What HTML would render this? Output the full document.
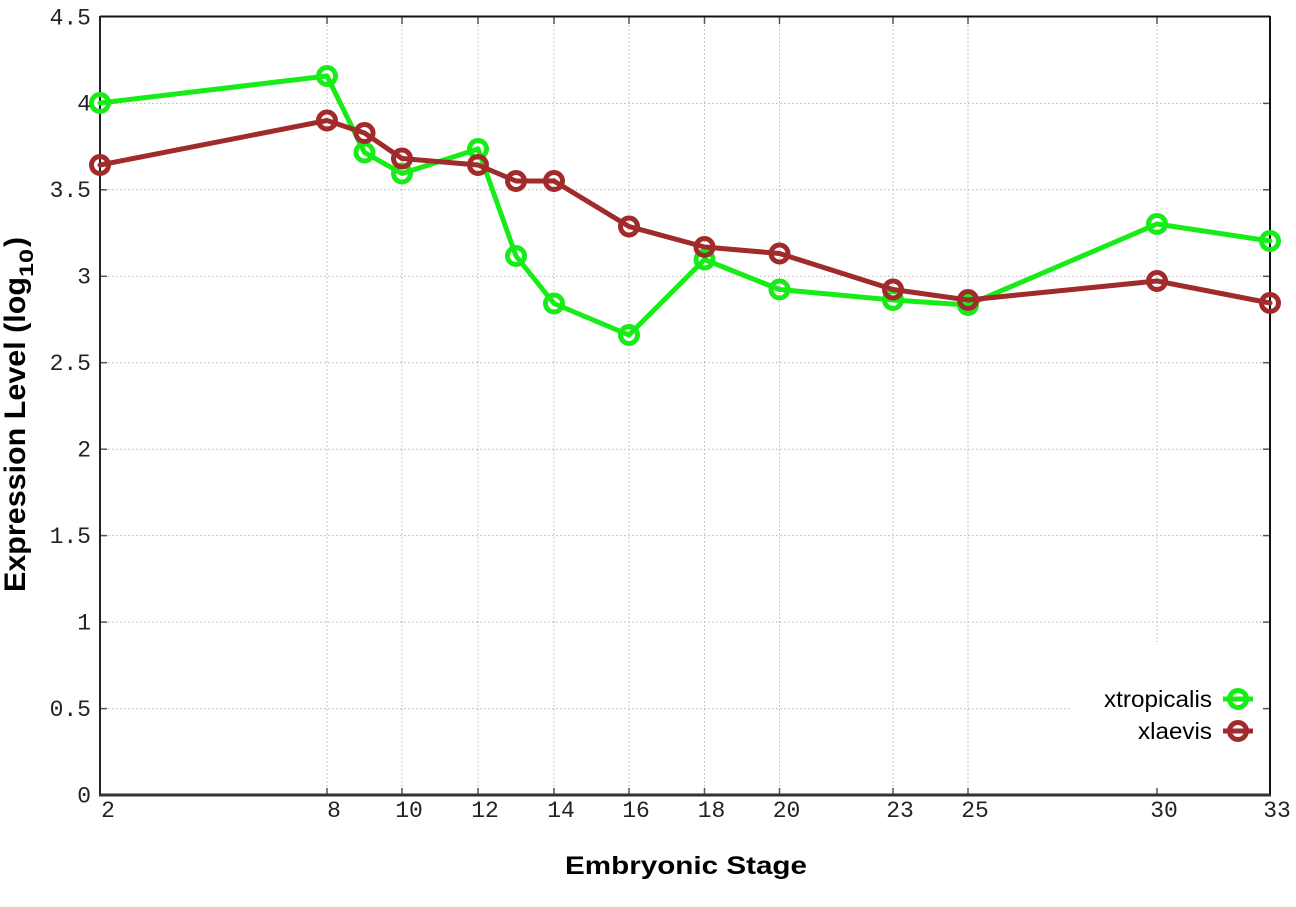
<!DOCTYPE html>
<html>
<head>
<meta charset="utf-8">
<style>
  html, body { margin:0; padding:0; background:#ffffff; }
  svg { display:block; }
  .tick { font-family:"Liberation Mono", monospace; font-size:23px; fill:#222; }
  .title { font-family:"Liberation Sans", sans-serif; font-weight:bold; fill:#000; }
  .leg { font-family:"Liberation Sans", sans-serif; font-size:23px; fill:#000; }
</style>
</head>
<body>
<svg width="1296" height="907" viewBox="0 0 1296 907" xmlns="http://www.w3.org/2000/svg">
  <rect x="0" y="0" width="1296" height="907" fill="#fff"/>

  <!-- grid -->
  <g stroke="#b4b4b4" stroke-width="1" stroke-dasharray="1.5,2.5" fill="none">
    <line x1="100" y1="708.6" x2="1270" y2="708.6"/>
    <line x1="100" y1="622.1" x2="1270" y2="622.1"/>
    <line x1="100" y1="535.6" x2="1270" y2="535.6"/>
    <line x1="100" y1="449.2" x2="1270" y2="449.2"/>
    <line x1="100" y1="362.7" x2="1270" y2="362.7"/>
    <line x1="100" y1="276.3" x2="1270" y2="276.3"/>
    <line x1="100" y1="189.8" x2="1270" y2="189.8"/>
    <line x1="100" y1="103.4" x2="1270" y2="103.4"/>
    <line x1="327" y1="17" x2="327" y2="795"/>
    <line x1="402" y1="17" x2="402" y2="795"/>
    <line x1="478" y1="17" x2="478" y2="795"/>
    <line x1="554" y1="17" x2="554" y2="795"/>
    <line x1="629" y1="17" x2="629" y2="795"/>
    <line x1="704.5" y1="17" x2="704.5" y2="795"/>
    <line x1="779.5" y1="17" x2="779.5" y2="795"/>
    <line x1="893" y1="17" x2="893" y2="795"/>
    <line x1="968" y1="17" x2="968" y2="795"/>
    <line x1="1157" y1="17" x2="1157" y2="795"/>
  </g>

  <!-- legend background -->
  <rect x="1071" y="642" width="198" height="152" fill="#fff"/>

  <!-- ticks -->
  <g stroke="#555" stroke-width="1.5">
    <line x1="100" y1="708.6" x2="107" y2="708.6"/><line x1="1263" y1="708.6" x2="1270" y2="708.6"/>
    <line x1="100" y1="622.1" x2="107" y2="622.1"/><line x1="1263" y1="622.1" x2="1270" y2="622.1"/>
    <line x1="100" y1="535.6" x2="107" y2="535.6"/><line x1="1263" y1="535.6" x2="1270" y2="535.6"/>
    <line x1="100" y1="449.2" x2="107" y2="449.2"/><line x1="1263" y1="449.2" x2="1270" y2="449.2"/>
    <line x1="100" y1="362.7" x2="107" y2="362.7"/><line x1="1263" y1="362.7" x2="1270" y2="362.7"/>
    <line x1="100" y1="276.3" x2="107" y2="276.3"/><line x1="1263" y1="276.3" x2="1270" y2="276.3"/>
    <line x1="100" y1="189.8" x2="107" y2="189.8"/><line x1="1263" y1="189.8" x2="1270" y2="189.8"/>
    <line x1="100" y1="103.4" x2="107" y2="103.4"/><line x1="1263" y1="103.4" x2="1270" y2="103.4"/>
    <line x1="327" y1="795" x2="327" y2="788"/><line x1="327" y1="17" x2="327" y2="24"/>
    <line x1="402" y1="795" x2="402" y2="788"/><line x1="402" y1="17" x2="402" y2="24"/>
    <line x1="478" y1="795" x2="478" y2="788"/><line x1="478" y1="17" x2="478" y2="24"/>
    <line x1="554" y1="795" x2="554" y2="788"/><line x1="554" y1="17" x2="554" y2="24"/>
    <line x1="629" y1="795" x2="629" y2="788"/><line x1="629" y1="17" x2="629" y2="24"/>
    <line x1="704.5" y1="795" x2="704.5" y2="788"/><line x1="704.5" y1="17" x2="704.5" y2="24"/>
    <line x1="779.5" y1="795" x2="779.5" y2="788"/><line x1="779.5" y1="17" x2="779.5" y2="24"/>
    <line x1="893" y1="795" x2="893" y2="788"/><line x1="893" y1="17" x2="893" y2="24"/>
    <line x1="968" y1="795" x2="968" y2="788"/><line x1="968" y1="17" x2="968" y2="24"/>
    <line x1="1157" y1="795" x2="1157" y2="788"/><line x1="1157" y1="17" x2="1157" y2="24"/>
  </g>

  <!-- border -->
  <g fill="none">
    <line x1="100" y1="16.5" x2="1270" y2="16.5" stroke="#111" stroke-width="2"/>
    <line x1="1270" y1="16" x2="1270" y2="796" stroke="#111" stroke-width="2"/>
    <line x1="100" y1="16" x2="100" y2="796" stroke="#222" stroke-width="2"/>
    <line x1="99" y1="795" x2="1271" y2="795" stroke="#333" stroke-width="3"/>
  </g>

  <!-- y tick labels -->
  <g class="tick" text-anchor="end">
    <text x="91" y="802.5">0</text>
    <text x="91" y="716">0.5</text>
    <text x="91" y="629.5">1</text>
    <text x="91" y="543">1.5</text>
    <text x="91" y="456.5">2</text>
    <text x="91" y="370">2.5</text>
    <text x="91" y="283.5">3</text>
    <text x="91" y="197">3.5</text>
    <text x="91" y="110.5">4</text>
    <text x="91" y="24.5">4.5</text>
  </g>

  <!-- x tick labels -->
  <g class="tick" text-anchor="middle">
    <text x="108" y="817">2</text>
    <text x="334" y="817">8</text>
    <text x="409" y="817">10</text>
    <text x="485" y="817">12</text>
    <text x="561" y="817">14</text>
    <text x="636" y="817">16</text>
    <text x="711.5" y="817">18</text>
    <text x="786.5" y="817">20</text>
    <text x="900" y="817">23</text>
    <text x="975" y="817">25</text>
    <text x="1164" y="817">30</text>
    <text x="1277" y="817">33</text>
  </g>

  <!-- axis titles -->
  <text class="title" x="565" y="874" font-size="25" textLength="242" lengthAdjust="spacingAndGlyphs">Embryonic Stage</text>
  <g transform="rotate(-90)">
    <text class="title" x="-592" y="25" font-size="30" textLength="315" lengthAdjust="spacingAndGlyphs">Expression Level (log</text>
    <text class="title" x="-277" y="33" font-size="19" textLength="28" lengthAdjust="spacingAndGlyphs">10</text>
    <text class="title" x="-247" y="25" font-size="30">)</text>
  </g>

  <!-- xtropicalis (green) -->
  <g stroke="#18ec18" fill="none" stroke-linejoin="round" stroke-linecap="round">
    <polyline stroke-width="5" points="100,103 327,76 364.5,152.5 402,173.5 478,149 516,256 554,303.5 629,335 704.5,259.5 779.5,289.5 893,300 968,305 1157,224 1270,241"/>
    <g stroke-width="5">
      <circle cx="100" cy="103" r="8.5"/>
      <circle cx="327" cy="76" r="8.5"/>
      <circle cx="364.5" cy="152.5" r="8.5"/>
      <circle cx="402" cy="173.5" r="8.5"/>
      <circle cx="478" cy="149" r="8.5"/>
      <circle cx="516" cy="256" r="8.5"/>
      <circle cx="554" cy="303.5" r="8.5"/>
      <circle cx="629" cy="335" r="8.5"/>
      <circle cx="704.5" cy="259.5" r="8.5"/>
      <circle cx="779.5" cy="289.5" r="8.5"/>
      <circle cx="893" cy="300" r="8.5"/>
      <circle cx="968" cy="305" r="8.5"/>
      <circle cx="1157" cy="224" r="8.5"/>
      <circle cx="1270" cy="241" r="8.5"/>
    </g>
  </g>

  <!-- xlaevis (brown) -->
  <g stroke="#a12a2a" fill="none" stroke-linejoin="round" stroke-linecap="round">
    <polyline stroke-width="5" points="100,165 327,120.5 364.5,133 402,158.5 478,165 516,181 554,181 629,226.5 704.5,247 779.5,253.5 893,289.5 968,300 1157,281 1270,303"/>
    <g stroke-width="5">
      <circle cx="100" cy="165" r="8.5"/>
      <circle cx="327" cy="120.5" r="8.5"/>
      <circle cx="364.5" cy="133" r="8.5"/>
      <circle cx="402" cy="158.5" r="8.5"/>
      <circle cx="478" cy="165" r="8.5"/>
      <circle cx="516" cy="181" r="8.5"/>
      <circle cx="554" cy="181" r="8.5"/>
      <circle cx="629" cy="226.5" r="8.5"/>
      <circle cx="704.5" cy="247" r="8.5"/>
      <circle cx="779.5" cy="253.5" r="8.5"/>
      <circle cx="893" cy="289.5" r="8.5"/>
      <circle cx="968" cy="300" r="8.5"/>
      <circle cx="1157" cy="281" r="8.5"/>
      <circle cx="1270" cy="303" r="8.5"/>
    </g>
  </g>

  <!-- legend -->
  <text class="leg" x="1212" y="707" text-anchor="end" textLength="108" lengthAdjust="spacingAndGlyphs">xtropicalis</text>
  <text class="leg" x="1212" y="739" text-anchor="end" textLength="74" lengthAdjust="spacingAndGlyphs">xlaevis</text>
  <g fill="none" stroke-linecap="butt">
    <line x1="1223" y1="699" x2="1253" y2="699" stroke="#18ec18" stroke-width="5"/>
    <circle cx="1238" cy="699" r="8.5" stroke="#18ec18" stroke-width="5"/>
    <line x1="1223" y1="731" x2="1253" y2="731" stroke="#a12a2a" stroke-width="5"/>
    <circle cx="1238" cy="731" r="8.5" stroke="#a12a2a" stroke-width="5"/>
  </g>
</svg>
</body>
</html>
